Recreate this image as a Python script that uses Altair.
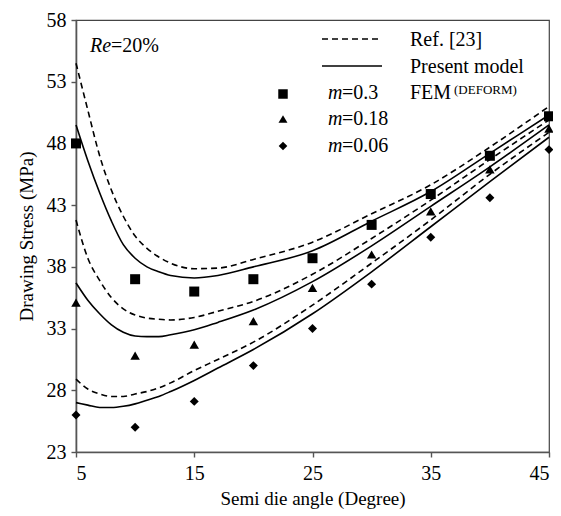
import altair as alt
import pandas as pd

# ---- data ----
angles_curve = [5, 6, 7, 8, 9, 10, 11, 12, 13, 15, 17, 20, 25, 30, 35, 40, 45]
ref_m03   = [54.5, 50.7, 47.0, 44.2, 42.1, 40.5, 39.5, 38.8, 38.3, 37.85, 37.9, 38.6, 40.0, 42.3, 44.65, 47.7, 51.0]
model_m03 = [49.5, 46.6, 44.0, 41.7, 39.8, 38.7, 38.0, 37.6, 37.3, 37.1, 37.3, 38.0, 39.3, 41.7, 44.1, 47.2, 50.3]
ref_m018  = [41.8, 38.7, 36.9, 35.5, 34.6, 34.1, 33.85, 33.75, 33.7, 33.9, 34.4, 35.2, 37.4, 40.3, 43.4, 46.7, 49.9]
model_m018 = [36.7, 35.3, 34.2, 33.3, 32.7, 32.4, 32.35, 32.35, 32.5, 32.9, 33.5, 34.5, 36.8, 39.7, 42.9, 46.1, 49.5]
ref_m006  = [28.9, 28.1, 27.7, 27.5, 27.5, 27.7, 27.9, 28.2, 28.6, 29.6, 30.5, 31.9, 34.9, 38.3, 41.8, 45.5, 48.9]
model_m006 = [27.0, 26.8, 26.6, 26.6, 26.7, 26.9, 27.2, 27.5, 27.9, 28.8, 29.8, 31.3, 34.2, 37.6, 41.25, 44.9, 48.5]

angles_fem = [5, 10, 15, 20, 25, 30, 35, 40, 45]
fem_m03  = [48.0, 37.0, 36.0, 37.0, 38.7, 41.4, 43.9, 47.0, 50.2]
fem_m018 = [35.1, 30.8, 31.7, 33.6, 36.3, 39.0, 42.5, 45.9, 49.2]
fem_m006 = [26.0, 25.0, 27.1, 30.0, 33.0, 36.6, 40.4, 43.6, 47.5]

x_ticks = [5, 15, 25, 35, 45]
y_ticks = [23, 28, 33, 38, 43, 48, 53, 58]

SERIF = "Liberation Serif, Times New Roman, serif"

# ---- tables ----
rows = []
for name, kind, vals in [("ref03", "ref", ref_m03), ("mod03", "model", model_m03),
                         ("ref018", "ref", ref_m018), ("mod018", "model", model_m018),
                         ("ref006", "ref", ref_m006), ("mod006", "model", model_m006)]:
    for a, v in zip(angles_curve, vals):
        rows.append({"curve": name, "kind": kind, "angle": a, "stress": v})
curves = pd.DataFrame(rows)

fem_rows = []
for shape, vals in [("square", fem_m03), ("triangle-up", fem_m018), ("diamond", fem_m006)]:
    for a, v in zip(angles_fem, vals):
        fem_rows.append({"shape": shape, "angle": a, "stress": v})
fem = pd.DataFrame(fem_rows)

xs = alt.Scale(domain=[5, 45], nice=False, zero=False)
ys = alt.Scale(domain=[23, 58], nice=False, zero=False)
xax = alt.Axis(values=x_ticks, title="Semi die angle (Degree)", grid=False, titlePadding=6)
yax = alt.Axis(values=y_ticks, title="Drawing Stress (MPa)", grid=False, titlePadding=10)

ref_lines = alt.Chart(curves[curves.kind == "ref"]).mark_line(
    color="black", strokeWidth=1.6, strokeDash=[6, 4], interpolate="monotone"
).encode(x=alt.X("angle:Q", scale=xs, axis=xax), y=alt.Y("stress:Q", scale=ys, axis=yax),
         detail="curve:N")

model_lines = alt.Chart(curves[curves.kind == "model"]).mark_line(
    color="black", strokeWidth=1.6, interpolate="monotone"
).encode(x=alt.X("angle:Q", scale=xs), y=alt.Y("stress:Q", scale=ys), detail="curve:N")

def fem_layer(shape, size):
    return alt.Chart(fem[fem["shape"] == shape]).mark_point(
        shape=shape, filled=True, color="black", size=size, opacity=1
    ).encode(x=alt.X("angle:Q", scale=xs), y=alt.Y("stress:Q", scale=ys))

one = alt.Data(values=[{"k": 1}])

def txt(text, x, y, size=20, style="normal", align="left"):
    return alt.Chart(one).mark_text(
        text=text, font=SERIF, fontSize=size, fontStyle=style, align=align,
        baseline="middle", color="black"
    ).encode(x=alt.value(x), y=alt.value(y))

def rule(x1, x2, y, dash=None):
    kw = dict(color="black", strokeWidth=1.6)
    if dash:
        kw["strokeDash"] = dash
    return alt.Chart(one).mark_rule(**kw).encode(x=alt.value(x1), x2=alt.value(x2), y=alt.value(y))

def sym(shape, x, y, size):
    return alt.Chart(one).mark_point(shape=shape, filled=True, color="black", size=size, opacity=1).encode(
        x=alt.value(x), y=alt.value(y))

legend = [
    rule(246, 306, 19, [6, 4]), txt("Ref. [23]", 334, 20),
    rule(246, 306, 46), txt("Present model", 334, 47),
    txt("FEM", 334, 73), txt("(DEFORM)", 378, 70, size=13),
    sym("square", 207, 74, 90), txt("m", 252, 73, style="italic"), txt("=0.3", 266, 73),
    sym("triangle-up", 207, 99, 80), txt("m", 252, 99, style="italic"), txt("=0.18", 266, 99),
    sym("diamond", 207, 126, 75), txt("m", 252, 126, style="italic"), txt("=0.06", 266, 126),
    txt("Re", 14, 26, style="italic"), txt("=20%", 35, 26),
]

chart = alt.layer(
    ref_lines, model_lines,
    fem_layer("square", 100), fem_layer("triangle-up", 90), fem_layer("diamond", 80),
    *legend
).properties(
    width=473, height=432,
    autosize=alt.AutoSizeParams(type="none"),
    padding={"left": 68, "top": 12, "right": 4, "bottom": 60},
).configure_view(
    stroke="#444", strokeWidth=1.2
).configure_axis(
    domainColor="#555", domainWidth=1.6, tickColor="#555", tickWidth=1.4, tickSize=5,
    labelFont=SERIF, labelFontSize=20, labelColor="black", labelPadding=6,
    titleFont=SERIF, titleFontSize=19, titleFontWeight="normal", titleColor="black",
).configure_axisY(labelPadding=5)

chart.save("out.html", embed_options={"renderer": "svg", "actions": False})
